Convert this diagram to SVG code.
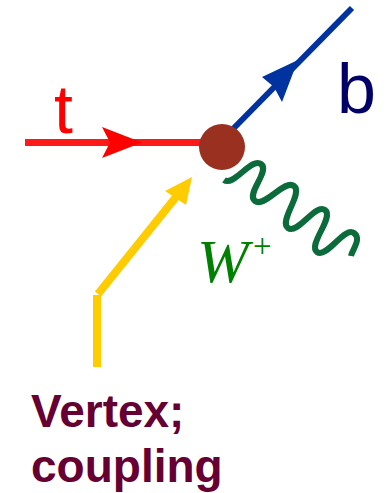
<svg xmlns="http://www.w3.org/2000/svg" width="386" height="493" viewBox="0 0 386 493">
<style>
.line{fill:none;stroke-linecap:butt;}
.lbl{font-family:"Liberation Sans",Arial,sans-serif;}
</style>
<rect width="386" height="493" fill="#ffffff"/>
<g id="connectors">
  <g id="top-quark">
    <line class="line" x1="25" y1="142.5" x2="205" y2="142.5" stroke="#ff1a1a" stroke-width="7"/>
    <polygon points="102,127 142,142.5 102,158 110,142.5" fill="#ff0000"/>
  </g>
  <g id="b-quark">
    <line class="line" x1="231" y1="131" x2="352" y2="8" stroke="#0033a0" stroke-width="6"/>
    <polygon points="262,77 298,60 282,102 274,87" fill="#0033a0"/>
  </g>
  <g id="w-boson">
    <path class="line" stroke="#0b6b3a" stroke-width="6" stroke-linejoin="round" stroke-linecap="round"
      d="M224,180 C233.6,187.2 251.4,156.8 261,164 C270.6,171.2 245.4,193.8 255,201 C264.6,208.2 284.4,178.8 294,186 C303.6,193.2 278.4,220.8 288,228 C297.6,235.2 315.4,202.8 325,210 C334.6,217.2 307.4,244.8 317,252 C326.6,259.2 344.4,225.8 354,233 C362,239 352,250 351,256"/>
  </g>
  <g id="pointer">
    <line class="line" x1="97" y1="367" x2="97" y2="295" stroke="#ffcc00" stroke-width="8"/>
    <line class="line" x1="98" y1="294" x2="176" y2="197" stroke="#ffcc00" stroke-width="8"/>
    <polygon points="165,191 192,177 186,205" fill="#ffcc00"/>
  </g>
</g>
<g id="vertex">
  <circle cx="222" cy="147" r="23" fill="#993020"/>
</g>
<g id="label-t">
  <text class="lbl" x="54" y="133" font-size="68" fill="#ff0000">t</text>
</g>
<g id="label-b">
  <text class="lbl" x="337" y="113" font-size="70" fill="#000066">b</text>
</g>
<g id="label-W">
  <text x="197" y="282" font-family="'Liberation Serif','Times New Roman',serif" font-style="italic" font-size="62" fill="#008000">W</text>
  <text x="253" y="257" font-family="'Liberation Serif','Times New Roman',serif" font-size="33" fill="#008000">+</text>
</g>
<g id="label-vertex">
  <text class="lbl" x="31" y="427" font-size="46" font-weight="bold" fill="#660033">Vertex;</text>
  <text class="lbl" x="31" y="482" font-size="46" font-weight="bold" fill="#660033">coupling</text>
</g>
</svg>
